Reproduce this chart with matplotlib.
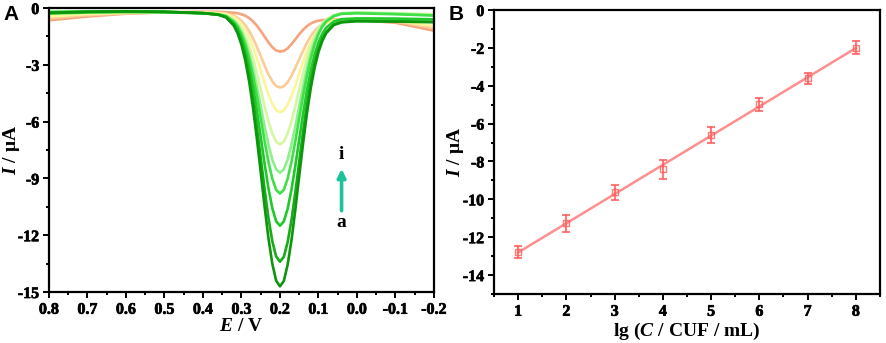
import numpy as np
import matplotlib
matplotlib.use("Agg")
from matplotlib import pyplot as plt
from matplotlib import patheffects
from matplotlib.ticker import MultipleLocator

plt.rcParams['font.family'] = ['Liberation Serif', 'DejaVu Serif']
plt.rcParams['font.weight'] = 'bold'
plt.rcParams['axes.unicode_minus'] = False
plt.rcParams['mathtext.fontset'] = 'custom'
plt.rcParams['mathtext.rm'] = 'Liberation Serif:bold'
plt.rcParams['mathtext.bf'] = 'Liberation Serif:bold'
plt.rcParams['mathtext.it'] = 'Liberation Serif:italic:bold'

# ---- panel A : DPV curves a..i ----
potential = [0.80, 0.70, 0.60, 0.50, 0.40, 0.36, 0.34, 0.32, 0.31, 0.30,
             0.29, 0.28, 0.27, 0.26, 0.25, 0.24, 0.23, 0.22, 0.21, 0.20,
             0.19, 0.18, 0.17, 0.16, 0.15, 0.14, 0.13, 0.12, 0.11, 0.10,
             0.09, 0.08, 0.06, 0.04, 0.00, -0.10, -0.20]

curve_a = [-0.25, -0.20, -0.18, -0.20, -0.27, -0.36, -0.50, -0.93, -1.34, -1.94,
           -2.78, -3.89, -5.27, -6.90, -8.67, -10.48, -12.15, -13.50, -14.40, -14.70,
           -14.42, -13.55, -12.25, -10.63, -8.87, -7.15, -5.57, -4.23, -3.15, -2.33,
           -1.74, -1.33, -0.90, -0.76, -0.70, -0.72, -0.75]
curve_b = [-0.27, -0.21, -0.19, -0.21, -0.28, -0.35, -0.48, -0.88, -1.24, -1.79,
           -2.55, -3.56, -4.82, -6.30, -7.91, -9.56, -11.08, -12.31, -13.12, -13.40,
           -13.14, -12.36, -11.18, -9.71, -8.11, -6.55, -5.11, -3.89, -2.90, -2.16,
           -1.62, -1.26, -0.86, -0.73, -0.68, -0.70, -0.73]
curve_c = [-0.22, -0.19, -0.18, -0.20, -0.27, -0.34, -0.46, -0.79, -1.11, -1.58,
           -2.23, -3.09, -4.16, -5.43, -6.81, -8.22, -9.52, -10.57, -11.26, -11.50,
           -11.27, -10.60, -9.58, -8.32, -6.94, -5.59, -4.35, -3.30, -2.46, -1.82,
           -1.36, -1.04, -0.71, -0.59, -0.55, -0.56, -0.60]
curve_d = [-0.30, -0.24, -0.22, -0.23, -0.28, -0.34, -0.43, -0.72, -0.98, -1.38,
           -1.93, -2.67, -3.58, -4.65, -5.82, -7.02, -8.12, -9.01, -9.60, -9.80,
           -9.60, -9.01, -8.12, -7.02, -5.82, -4.65, -3.58, -2.67, -1.93, -1.38,
           -0.98, -0.72, -0.43, -0.31, -0.28, -0.33, -0.40]
curve_e = [-0.20, -0.17, -0.17, -0.20, -0.27, -0.33, -0.42, -0.67, -0.90, -1.26,
           -1.74, -2.39, -3.20, -4.15, -5.18, -6.24, -7.21, -8.00, -8.52, -8.70,
           -8.52, -8.00, -7.21, -6.24, -5.18, -4.15, -3.20, -2.39, -1.74, -1.26,
           -0.90, -0.67, -0.40, -0.28, -0.25, -0.30, -0.38]
curve_f = [-0.22, -0.18, -0.17, -0.19, -0.26, -0.33, -0.40, -0.60, -0.80, -1.09,
           -1.49, -2.02, -2.68, -3.46, -4.31, -5.18, -5.98, -6.63, -7.06, -7.20,
           -7.06, -6.63, -5.98, -5.18, -4.31, -3.46, -2.68, -2.02, -1.49, -1.09,
           -0.80, -0.60, -0.38, -0.28, -0.24, -0.27, -0.33]
curve_g = [-0.45, -0.32, -0.26, -0.23, -0.24, -0.27, -0.32, -0.48, -0.63, -0.85,
           -1.15, -1.56, -2.06, -2.65, -3.30, -3.96, -4.57, -5.06, -5.39, -5.50,
           -5.41, -5.11, -4.65, -4.07, -3.45, -2.83, -2.27, -1.80, -1.42, -1.14,
           -0.93, -0.79, -0.64, -0.60, -0.60, -0.68, -0.95]
curve_h = [-0.55, -0.38, -0.28, -0.23, -0.22, -0.25, -0.29, -0.40, -0.52, -0.68,
           -0.91, -1.22, -1.60, -2.05, -2.54, -3.04, -3.50, -3.87, -4.12, -4.20,
           -4.14, -3.92, -3.58, -3.16, -2.70, -2.25, -1.84, -1.49, -1.21, -1.00,
           -0.86, -0.75, -0.66, -0.62, -0.62, -0.72, -1.05]
curve_i = [-0.65, -0.45, -0.30, -0.23, -0.20, -0.20, -0.23, -0.25, -0.28, -0.33,
           -0.41, -0.53, -0.70, -0.93, -1.21, -1.51, -1.81, -2.07, -2.24, -2.30,
           -2.27, -2.13, -1.91, -1.65, -1.39, -1.15, -0.96, -0.82, -0.73, -0.67,
           -0.64, -0.62, -0.60, -0.60, -0.63, -0.78, -1.20]

curves = [curve_a, curve_b, curve_c, curve_d, curve_e, curve_f, curve_g, curve_h, curve_i]
curve_colors = ['#0d960d', '#16ad16', '#1fc92a', '#3fe046', '#8ef08a',
                '#d4f7a4', '#fbf59c', '#fccb98', '#f6a47c']

xticks_A = [0.8, 0.7, 0.6, 0.5, 0.4, 0.3, 0.2, 0.1, 0.0, -0.1, -0.2]
xtick_labels_A = ['0.8', '0.7', '0.6', '0.5', '0.4', '0.3', '0.2', '0.1', '0.0', '-0.1', '-0.2']
yticks_A = [0, -3, -6, -9, -12, -15]

# ---- panel B : calibration ----
lg_conc = [1, 2, 3, 4, 5, 6, 7, 8]
current = [-12.77, -11.27, -9.63, -8.42, -6.60, -4.98, -3.61, -1.99]
current_err = [0.31, 0.46, 0.39, 0.50, 0.42, 0.33, 0.29, 0.33]
yticks_B = [0, -2, -4, -6, -8, -10, -12, -14]

fig = plt.figure(figsize=(8.86, 3.43), dpi=100)
axA = fig.add_axes([0.0553, 0.1487, 0.4345, 0.828])
axB = fig.add_axes([0.5576, 0.1429, 0.4356, 0.828])

thick = [patheffects.withStroke(linewidth=0.5, foreground='black')]

# lightest first so the dark green sits on top
for y, c in reversed(list(zip(curves, curve_colors))):
    axA.plot(potential, y, color=c, lw=1.9, solid_capstyle='round')

axA.set_xlim(0.8, -0.2)
axA.set_ylim(-15, 0)
axA.set_xticks(xticks_A)
axA.set_xticklabels(xtick_labels_A, fontweight='bold', path_effects=thick)
axA.set_yticks(yticks_A)
axA.set_yticklabels([str(v) for v in yticks_A], fontweight='bold', path_effects=thick)
axA.xaxis.set_minor_locator(MultipleLocator(0.05))
axA.yaxis.set_minor_locator(MultipleLocator(1.5))
axA.set_xlabel(r'$E\mathbf{\ /\ V}$', fontsize=14)
axA.set_ylabel(r'$I\mathbf{\ /\ μA}$', fontsize=14)
axA.xaxis.set_label_coords(0.5, -0.09)
axA.yaxis.set_label_coords(-0.07, 0.5)

axA.annotate('', xy=(0.04, -8.35), xytext=(0.04, -10.85),
             arrowprops=dict(arrowstyle='-|>', color='#1cc29a', lw=2.6, mutation_scale=12))
axA.text(0.04, -7.75, 'i', ha='center', va='center', fontsize=14, fontweight='bold')
axA.text(0.04, -11.35, 'a', ha='center', va='center', fontsize=14, fontweight='bold')

fit = np.polyfit(lg_conc, current, 1)
axB.plot(lg_conc, np.polyval(fit, lg_conc), color='#ff7a7a', lw=1.8, alpha=0.85)
axB.errorbar(lg_conc, current, yerr=current_err, fmt='s', ms=4, mfc='none',
             mec='#ff5a5a', ecolor='#ff5a5a', elinewidth=1.5, capsize=3, capthick=1.5, alpha=0.8)
axB.set_xlim(0.5, 8.5)
axB.set_ylim(-15, 0)
axB.set_xticks(lg_conc)
axB.set_xticklabels([str(v) for v in lg_conc], fontweight='bold', path_effects=thick)
axB.set_yticks(yticks_B)
axB.set_yticklabels([str(v) for v in yticks_B], fontweight='bold', path_effects=thick)
axB.xaxis.set_minor_locator(MultipleLocator(0.5))
axB.yaxis.set_minor_locator(MultipleLocator(1))
axB.set_xlabel(r'$\mathbf{lg\ (}C\mathbf{\ /\ CUF\ /\ mL)}$', fontsize=14)
axB.set_ylabel(r'$I\mathbf{\ /\ μA}$', fontsize=14)
axB.xaxis.set_label_coords(0.5, -0.095)
axB.yaxis.set_label_coords(-0.072, 0.5)

for ax in (axA, axB):
    for s in ax.spines.values():
        s.set_linewidth(1.6)
    ax.tick_params(which='both', direction='out', top=False, right=False, width=1.4, labelsize=11.5)
    ax.tick_params(which='major', length=4, pad=3)
    ax.tick_params(which='minor', length=2.5)

fig.text(0.004, 0.985, 'A', family='Liberation Sans', fontweight='bold', fontsize=15, va='top')
fig.text(0.506, 0.985, 'B', family='Liberation Sans', fontweight='bold', fontsize=15, va='top')

fig.savefig('out.png', dpi=100)
